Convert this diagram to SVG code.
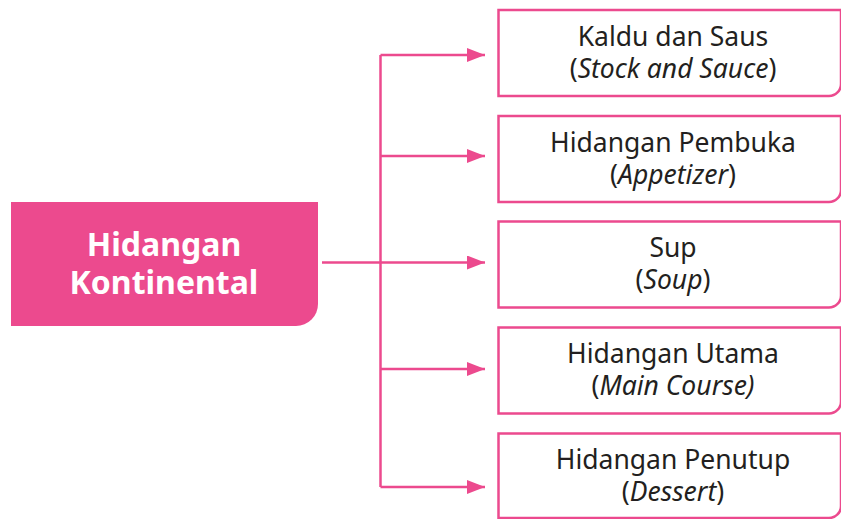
<svg xmlns="http://www.w3.org/2000/svg" width="841" height="519" viewBox="0 0 841 519">
<defs>
<style>
.c{stroke:#EC4A8E;stroke-width:2.5;fill:none}
.box{stroke:#EC4A8E;stroke-width:2.5;fill:#ffffff}
.t{font-family:"Noto Sans","Open Sans","Liberation Sans",sans-serif;font-size:26.5px;fill:#231F20;text-anchor:middle}
.i{font-style:italic}
.m{font-family:"Noto Sans","Open Sans","Liberation Sans",sans-serif;font-size:32px;font-weight:bold;fill:#ffffff;text-anchor:middle}
</style>
<marker id="ah" viewBox="0 0 18 14" refX="18" refY="7" markerWidth="18" markerHeight="14" markerUnits="userSpaceOnUse" orient="auto">
<path d="M0,0 L18,7 L0,14 Z" fill="#EC4A8E"/>
</marker>
</defs>
<g id="connectors">
<path class="c" d="M380.5,55 V487"/>
<path class="c" d="M322,262.5 H485" marker-end="url(#ah)"/>
<path class="c" d="M380.5,55 H485" marker-end="url(#ah)"/>
<path class="c" d="M380.5,156 H485" marker-end="url(#ah)"/>
<path class="c" d="M380.5,369 H485" marker-end="url(#ah)"/>
<path class="c" d="M380.5,487 H485" marker-end="url(#ah)"/>
</g>
<g id="main">
<path d="M11,202 H318 V304 A22,22 0 0 1 296,326 H11 Z" fill="#EC4A8E"/>
<text class="m"><tspan x="164" y="256">Hidangan</tspan><tspan x="164" y="294">Kontinental</tspan></text>
</g>
<g id="n1">
<path class="box" d="M498.5,10 H841 V84 A12,12 0 0 1 829,96 H498.5 Z"/>
<text class="t"><tspan x="673" y="45.5">Kaldu dan Saus</tspan><tspan x="673" y="77.5">(<tspan class="i">Stock and Sauce</tspan>)</tspan></text>
</g>
<g id="n2">
<path class="box" d="M498.5,116 H841 V190 A12,12 0 0 1 829,202 H498.5 Z"/>
<text class="t"><tspan x="673" y="151.5">Hidangan Pembuka</tspan><tspan x="673" y="183.5">(<tspan class="i">Appetizer</tspan>)</tspan></text>
</g>
<g id="n3">
<path class="box" d="M498.5,221.5 H841 V295.5 A12,12 0 0 1 829,307.5 H498.5 Z"/>
<text class="t"><tspan x="673" y="257">Sup</tspan><tspan x="673" y="289">(<tspan class="i">Soup</tspan>)</tspan></text>
</g>
<g id="n4">
<path class="box" d="M498.5,327.5 H841 V401.5 A12,12 0 0 1 829,413.5 H498.5 Z"/>
<text class="t"><tspan x="673" y="363">Hidangan Utama</tspan><tspan x="673" y="395">(<tspan class="i">Main Course)</tspan></tspan></text>
</g>
<g id="n5">
<path class="box" d="M498.5,433.5 H841 V506 A12,12 0 0 1 829,518 H498.5 Z"/>
<text class="t"><tspan x="673" y="469">Hidangan Penutup</tspan><tspan x="673" y="501">(<tspan class="i">Dessert</tspan>)</tspan></text>
</g>
</svg>
